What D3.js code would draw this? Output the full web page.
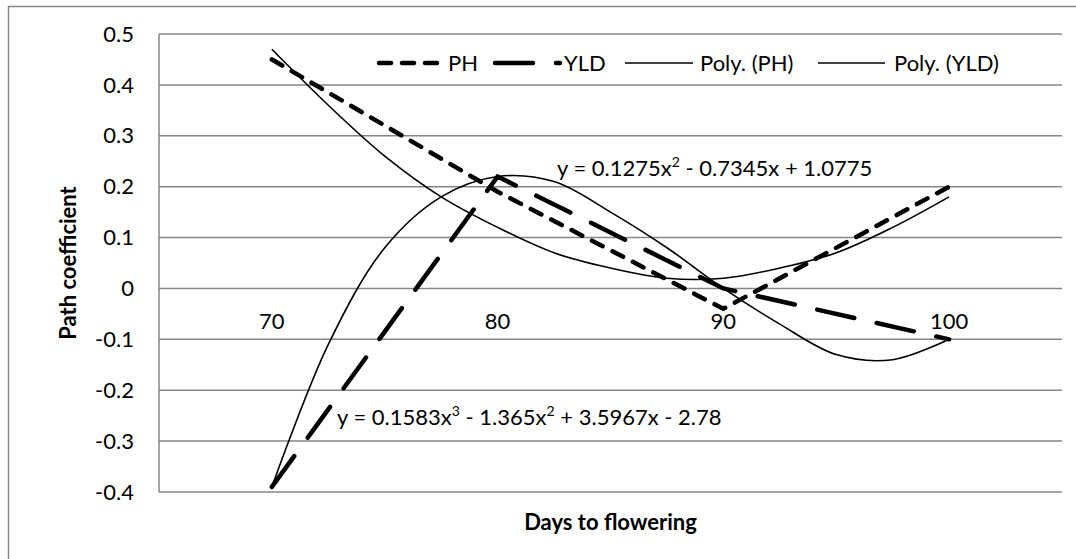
<!DOCTYPE html>
<html>
<head>
<meta charset="utf-8">
<script src="https://cdn.jsdelivr.net/npm/d3@7"></script>
<style>
  body { margin: 0; background: #fff; }
  svg { display: block; font-family: Lato, "Open Sans", sans-serif; }
</style>
</head>
<body>
<svg id="chart" width="1076" height="559"></svg>
<script>
// Categories and series
const days = ["70", "80", "90", "100"];
const ph = [0.45, 0.19, -0.04, 0.2];
const yld = [-0.39, 0.22, 0.0, -0.1];

// Trendline values at quarter steps (category index 1..4)
const trendX = [1, 1.25, 1.5, 1.75, 2, 2.25, 2.5, 2.75, 3, 3.25, 3.5, 3.75, 4];
const polyPH = [0.47, 0.36, 0.26, 0.18, 0.12, 0.07, 0.04, 0.02, 0.02, 0.04, 0.07, 0.12, 0.18];
const polyYLD = [-0.39, -0.11, 0.08, 0.18, 0.22, 0.21, 0.15, 0.08, 0.0, -0.07, -0.13, -0.14, -0.1];

const yTicks = [0.5, 0.4, 0.3, 0.2, 0.1, 0, -0.1, -0.2, -0.3, -0.4];

const eqPH = ["y = 0.1275x", "2", " - 0.7345x + 1.0775"];
const eqYLD = ["y = 0.1583x", "3", " - 1.365x", "2", " + 3.5967x - 2.78"];

const svg = d3.select("#chart");
const plotLeft = 159, plotRight = 1062, plotTop = 34, plotBottom = 492;
const grid = "#868686";
const fs = 22;
const phDash = "12 11", yldDash = "38 23";

// outer chart border
svg.append("rect")
  .attr("x", 8.5).attr("y", 6.5)
  .attr("width", 1100).attr("height", 600)
  .attr("fill", "none").attr("stroke", grid).attr("stroke-width", 1.5);

const y = d3.scaleLinear().domain([-0.4, 0.5]).range([plotBottom, plotTop]);
// category centres (index 1..4), Excel style between-tick placement
const x = d3.scaleLinear().domain([0.5, 4.5]).range([plotLeft, plotRight]);

// gridlines
svg.append("g")
  .selectAll("line")
  .data(yTicks)
  .join("line")
  .attr("x1", plotLeft).attr("x2", plotRight)
  .attr("y1", d => y(d)).attr("y2", d => y(d))
  .attr("stroke", grid).attr("stroke-width", 1.5);

// vertical axis line
svg.append("line")
  .attr("x1", plotLeft).attr("x2", plotLeft)
  .attr("y1", plotTop).attr("y2", plotBottom)
  .attr("stroke", grid).attr("stroke-width", 1.5);

// y tick labels (plain hyphen, like the original)
svg.append("g")
  .selectAll("text")
  .data(yTicks)
  .join("text")
  .attr("x", 134)
  .attr("y", d => y(d))
  .attr("dy", "0.35em")
  .attr("text-anchor", "end")
  .attr("font-size", fs)
  .attr("fill", "#000")
  .text(d => String(d));

// category labels sit below the zero line
svg.append("g")
  .selectAll("text")
  .data(days)
  .join("text")
  .attr("x", (d, i) => x(i + 1))
  .attr("y", y(0) + 41)
  .attr("text-anchor", "middle")
  .attr("font-size", fs)
  .text(d => d);

// axis titles
svg.append("text")
  .attr("transform", `translate(76, ${(plotTop + plotBottom) / 2}) rotate(-90)`)
  .attr("text-anchor", "middle")
  .attr("font-size", fs)
  .attr("font-weight", "bold")
  .text("Path coefficient");

svg.append("text")
  .attr("x", (plotLeft + plotRight) / 2)
  .attr("y", 530)
  .attr("text-anchor", "middle")
  .attr("font-size", fs)
  .attr("font-weight", "bold")
  .text("Days to flowering");

// trendlines (thin solid)
const trendLine = d3.line()
  .x((d, i) => x(trendX[i]))
  .y(d => y(d))
  .curve(d3.curveCatmullRom);

[polyPH, polyYLD].forEach(s => {
  svg.append("path")
    .attr("d", trendLine(s))
    .attr("fill", "none")
    .attr("stroke", "#000")
    .attr("stroke-width", 1.6);
});

// data series
const seriesLine = d3.line()
  .x((d, i) => x(i + 1))
  .y(d => y(d));

svg.append("path")
  .attr("d", seriesLine(yld))
  .attr("fill", "none")
  .attr("stroke", "#000")
  .attr("stroke-width", 4.5)
  .attr("stroke-linecap", "round")
  .attr("stroke-dasharray", yldDash);

svg.append("path")
  .attr("d", seriesLine(ph))
  .attr("fill", "none")
  .attr("stroke", "#000")
  .attr("stroke-width", 4.5)
  .attr("stroke-linecap", "round")
  .attr("stroke-dasharray", phDash);

// equations
function equation(parts, xPos, yPos) {
  const t = svg.append("text")
    .attr("x", xPos).attr("y", yPos)
    .attr("font-size", fs);
  let raised = false;
  parts.forEach(p => {
    const sup = /^[0-9]$/.test(p);
    let dy = 0;
    if (sup && !raised) { dy = -9; raised = true; }
    else if (!sup && raised) { dy = 9; raised = false; }
    t.append("tspan")
      .attr("font-size", sup ? 14 : fs)
      .attr("dy", dy)
      .text(p);
  });
}
equation(eqPH, 557, 176);
equation(eqYLD, 337, 425);

// legend
const legend = [
  { name: "PH", x1: 379, x2: 438, w: 4.5, dash: phDash, tx: 448 },
  { name: "YLD", x1: 495, x2: 560, w: 4.5, dash: yldDash, tx: 564 },
  { name: "Poly. (PH)", x1: 625, x2: 693, w: 1.6, dash: null, tx: 700 },
  { name: "Poly. (YLD)", x1: 818, x2: 885, w: 1.6, dash: null, tx: 894 }
];
const lg = svg.append("g").selectAll("g").data(legend).join("g");
lg.append("line")
  .attr("x1", d => d.x1).attr("x2", d => d.x2)
  .attr("y1", 63).attr("y2", 63)
  .attr("stroke", "#000")
  .attr("stroke-width", d => d.w)
  .attr("stroke-linecap", d => d.dash ? "round" : "butt")
  .attr("stroke-dasharray", d => d.dash);
lg.append("text")
  .attr("x", d => d.tx).attr("y", 63)
  .attr("dy", "0.35em")
  .attr("font-size", fs)
  .text(d => d.name);
</script>
</body>
</html>
